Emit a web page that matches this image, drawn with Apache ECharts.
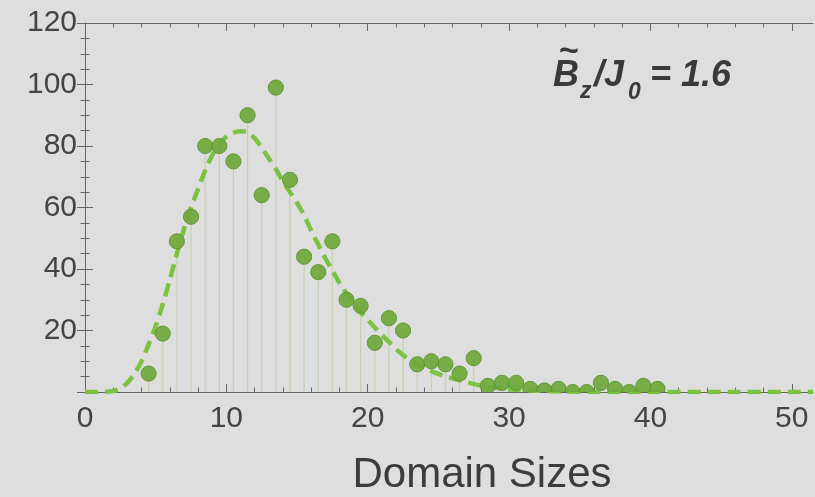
<!DOCTYPE html>
<html>
<head>
<meta charset="utf-8">
<script src="https://cdn.jsdelivr.net/npm/echarts@6/dist/echarts.min.js"></script>
<style>
html,body{margin:0;padding:0;background:#dfdedf;}
#chart{width:815px;height:497px;}
</style>
</head>
<body>
<div id="chart"></div>
<script>
// Domain size histogram (bin centres) and counts
const sizes = [4.5,5.5,6.5,7.5,8.5,9.5,10.5,11.5,12.5,13.5,14.5,15.5,16.5,17.5,18.5,19.5,20.5,21.5,22.5,23.5,24.5,25.5,26.5,27.5,28.5,29.5,30.5,31.5,32.5,33.5,34.5,35.5,36.5,37.5,38.5,39.5,40.5];
const counts = [6,19,49,57,80,80,75,90,64,99,69,44,39,49,30,28,16,24,20,9,10,9,6,11,2,3,3,1,0.5,1,0,0,3,1,0,2,1];
// Fitted curve
const curveX = [0,1,2,2.5,3,3.5,4,4.5,5,5.5,6,6.5,7,7.5,8,8.5,9,9.5,10,10.5,11,11.5,12,12.5,13,13.5,14,14.5,15,15.5,16,16.5,17,17.5,18,18.5,19,19.5,20,20.5,21,21.5,22,22.5,23,23.5,24,24.5,25,25.5,26,27,28,29,30,31,32,34,36,40,45,51.5];
const curveY = [0,0,0.3,1.2,3,6,10,15.5,21.5,28.5,36.5,45,53,60,66,72,77,80.5,83,84.3,84.8,84.5,82.5,79.5,76,72.5,68.5,65,61.5,57.5,52.5,48,43.5,39.5,35.5,32,29,26,23.5,21,18.5,16.3,14,12,10.3,9,7.8,6.8,5.9,5.1,4.4,3.2,2.1,1.4,0.9,0.6,0.4,0.15,0.05,0,0,0];
// Ticks
const xMajor = [0,10,20,30,40,50];
const xMinor = [2,4,6,8,12,14,16,18,22,24,26,28,32,34,36,38,42,44,46,48];
const xMin = 0, xMax = 51.5;
const yMin = 0, yMax = 120, yStep = 20;

const pts = sizes.map((s,i)=>[s,counts[i]]);
const curve = curveX.map((x,i)=>[x,curveY[i]]);

const axisColor = '#666';
const labelColor = '#444';
const font = 'Liberation Sans, Arial, sans-serif';

function xAx(pos, major, withLabels, showLine){
  return {
    type:'value', position:pos, min:xMin, max:xMax, gridIndex:0,
    axisLine:{show:showLine, lineStyle:{color:axisColor, width:1}},
    axisTick:{show:true, inside:true, length: major?8:4.5, customValues: major?xMajor:xMinor, lineStyle:{color:axisColor, width:1}},
    axisLabel:{show:withLabels, customValues:xMajor, fontSize:30, color:labelColor, fontFamily:font, margin:12},
    splitLine:{show:false}
  };
}
function yAx(pos, withLabels){
  return {
    type:'value', position:pos, min:yMin, max:yMax, interval:yStep,
    axisLine:{show:true, lineStyle:{color:axisColor, width:1}},
    axisTick:{show:true, inside:true, length:8, lineStyle:{color:axisColor, width:1}},
    minorTick:{show:true, splitNumber:4, length:4.5, lineStyle:{color:axisColor, width:1}},
    axisLabel:{show:withLabels, showMinLabel:false, fontSize:30, color:labelColor, fontFamily:font, margin:8},
    splitLine:{show:false}
  };
}

const chart = echarts.init(document.getElementById('chart'), null, {renderer:'canvas'});
chart.setOption({
  backgroundColor:'#dfdedf',
  animation:false,
  grid:{left:85, top:23, right:2, bottom:105, containLabel:false},
  xAxis:[xAx('bottom',true,true,true), xAx('bottom',false,false,false), xAx('top',true,false,true), xAx('top',false,false,false)],
  yAxis:[yAx('left',true), yAx('right',false)],
  series:[
    {
      type:'custom', name:'stems', xAxisIndex:0, yAxisIndex:0, z:1, clip:true,
      data:pts,
      renderItem:function(params, api){
        const p = api.coord([api.value(0), api.value(1)]);
        const b = api.coord([api.value(0), 0]);
        return {type:'line', shape:{x1:p[0], y1:b[1], x2:p[0], y2:p[1]}, style:{stroke:'#c4d2b2', lineWidth:1.3}};
      }
    },
    {
      type:'line', name:'fit', xAxisIndex:0, yAxisIndex:0, z:2,
      data:curve, showSymbol:false, smooth:0.3,
      lineStyle:{color:'#7cc242', width:4.5, type:[13,7], cap:'butt'}
    },
    {
      type:'custom', name:'dots', xAxisIndex:0, yAxisIndex:0, z:3, clip:true,
      data:pts,
      renderItem:function(params, api){
        const p = api.coord([api.value(0), api.value(1)]);
        return {type:'circle', shape:{cx:p[0], cy:p[1], r:7.6}, style:{fill:'#6fa83b', stroke:'#5e9632', lineWidth:1, opacity:0.93}};
      }
    }
  ],
  graphic:[
    {type:'text', style:{text:'Domain Sizes', x:482, y:475, align:'center', verticalAlign:'middle', font:'42px '+font, fill:'#3c3c3c'}},
    {type:'text', style:{text:'~', x:569, y:52, align:'center', verticalAlign:'middle', font:'bold 34px '+font, fill:'#3a3a3a'}},
    {type:'text', style:{text:'B', x:553, y:76, align:'left', verticalAlign:'middle', font:'italic bold 36px '+font, fill:'#3a3a3a'}},
    {type:'text', style:{text:'z', x:580, y:92, align:'left', verticalAlign:'middle', font:'italic bold 23px '+font, fill:'#3a3a3a'}},
    {type:'text', style:{text:'/J', x:594, y:76, align:'left', verticalAlign:'middle', font:'italic bold 36px '+font, fill:'#3a3a3a'}},
    {type:'text', style:{text:'0', x:628, y:93, align:'left', verticalAlign:'middle', font:'italic bold 23px '+font, fill:'#3a3a3a'}},
    {type:'text', style:{text:'= 1.6', x:650, y:76, align:'left', verticalAlign:'middle', font:'italic bold 36px '+font, fill:'#3a3a3a'}}
  ]
});
</script>
</body>
</html>
